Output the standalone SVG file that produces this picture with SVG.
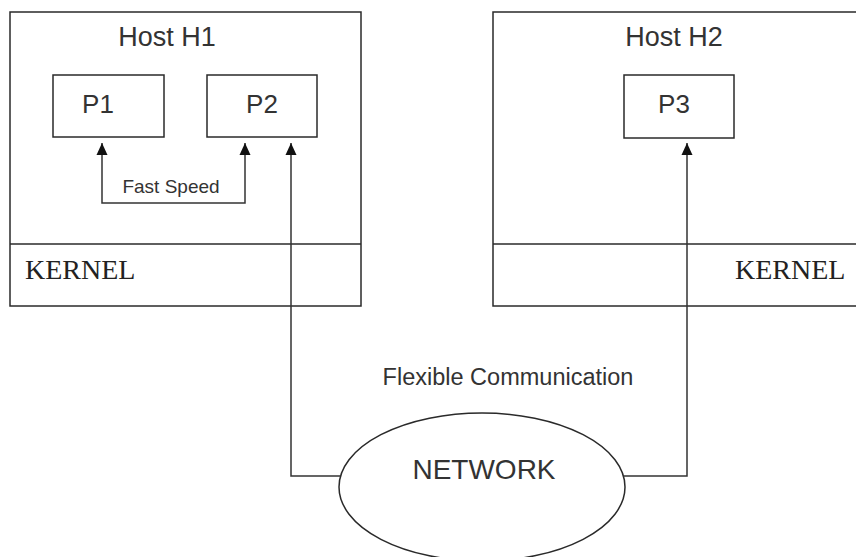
<svg xmlns="http://www.w3.org/2000/svg" width="856" height="557" viewBox="0 0 856 557">
<defs>
<style>
.box{fill:none;stroke:#2a2a2a;stroke-width:1.5}
.ln{fill:none;stroke:#333;stroke-width:1.5}
.sans{font-family:"Liberation Sans",Arial,sans-serif;fill:#333}
.serif{font-family:"Liberation Serif","Times New Roman",serif;fill:#222;font-size:28px}
</style>
<marker id="ah" viewBox="0 0 12 12" refX="6" refY="0" markerWidth="12" markerHeight="12" markerUnits="userSpaceOnUse" orient="0">
<path d="M0.5,12 L6,0 L11.5,12 Z" fill="#111"/>
</marker>
</defs>
<rect width="856" height="557" fill="#fff"/>
<g id="host1">
<rect class="box" x="10" y="12" width="351" height="294"/>
<line class="box" x1="10" y1="244" x2="361" y2="244"/>
<text class="sans" x="167" y="46" font-size="27" text-anchor="middle">Host H1</text>
<text class="serif" x="25" y="279">KERNEL</text>
</g>
<g id="p1">
<rect class="box" x="53" y="75" width="111" height="62"/>
<text class="sans" x="98" y="113" font-size="26" text-anchor="middle">P1</text>
</g>
<g id="p2">
<rect class="box" x="207" y="75" width="110" height="62"/>
<text class="sans" x="262" y="113" font-size="26" text-anchor="middle">P2</text>
</g>
<g id="host2">
<rect class="box" x="493" y="12" width="380" height="294"/>
<line class="box" x1="493" y1="244" x2="856" y2="244"/>
<text class="sans" x="674" y="46" font-size="27" text-anchor="middle">Host H2</text>
<text class="serif" x="735" y="279">KERNEL</text>
</g>
<g id="p3">
<rect class="box" x="624" y="75" width="110" height="63"/>
<text class="sans" x="674" y="113" font-size="26" text-anchor="middle">P3</text>
</g>
<g id="network">
<ellipse class="box" cx="482" cy="487" rx="143" ry="74"/>
<text class="sans" x="484" y="479" font-size="28" text-anchor="middle">NETWORK</text>
</g>
<g id="connectors">
<path class="ln" d="M102,143 V203 H245 V143" marker-start="url(#ah)" marker-end="url(#ah)"/>
<path class="ln" d="M340,476 H291 V143" marker-end="url(#ah)"/>
<path class="ln" d="M623,476 H687 V143" marker-end="url(#ah)"/>
<text class="sans" x="171" y="193" font-size="19" text-anchor="middle">Fast Speed</text>
<text class="sans" x="508" y="385" font-size="23.5" text-anchor="middle">Flexible Communication</text>
</g>
</svg>
